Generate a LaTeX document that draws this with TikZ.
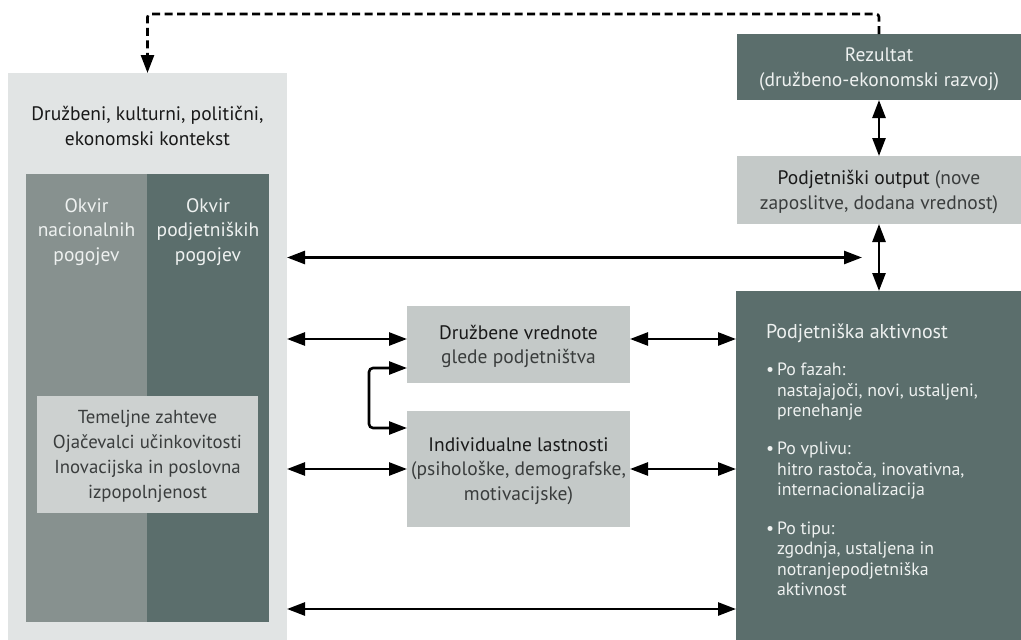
\documentclass[tikz,border=0pt]{standalone}
\usepackage{fontspec}
\setmainfont{PT Sans}
\usepackage{xcolor}
\usetikzlibrary{arrows.meta,calc}

\definecolor{slate}{HTML}{5B6E6C}
\definecolor{midgray}{HTML}{87918F}
\definecolor{ctxgray}{HTML}{E1E4E4}
\definecolor{boxgray}{HTML}{C4C9C8}
\definecolor{innergray}{HTML}{CDD1D0}
\definecolor{paletext}{HTML}{EEF1F0}
\definecolor{softtext}{HTML}{3A3D3D}

\newcommand{\soft}[1]{{\color{softtext}#1}}

\begin{document}
\begin{tikzpicture}[
    x=1pt, y=-1pt,
    panel/.style={rectangle, inner sep=0pt, outer sep=0pt},
    ctxbox/.style={panel, fill=ctxgray},
    colbox/.style={panel},
    darkbox/.style={panel, fill=slate, text=paletext, align=center, text depth=0pt,
                font=\fontsize{19.5}{24.5}\selectfont},
    greybox/.style={panel, fill=boxgray, text=black!90, align=center, text depth=0pt,
                font=\fontsize{19.5}{24.5}\selectfont},
    lbl/.style={inner sep=0pt, align=center, font=\fontsize{19.5}{24.5}\selectfont},
    arr/.style={{Triangle[length=18pt,width=13pt]}-{Triangle[length=18pt,width=13pt]}, line width=2.6pt},
    darr/.style={-{Triangle[length=18pt,width=13pt]}, line width=2.6pt, dash pattern=on 8pt off 4.5pt,
                rounded corners=3pt}
]
\path[use as bounding box, fill=white] (0,0) rectangle (1021,640);

% --- Context (left) ---
\node[ctxbox, minimum width=279pt, minimum height=567pt] (ctx) at (147.5,356.5) {};
\node[lbl, text=black!90] (ctxlbl) at (147.5,126) {Družbeni, kulturni, politični,\\ekonomski kontekst};

\node[colbox, fill=midgray, minimum width=121pt, minimum height=448pt] (nat) at (86.5,398) {};
\node[colbox, fill=slate, minimum width=122pt, minimum height=448pt] (podj) at (208,398) {};
\node[lbl, text=paletext] (natlbl) at (86.5,232) {Okvir\\nacionalnih\\pogojev};
\node[lbl, text=paletext] (podjlbl) at (208,232) {Okvir\\podjetniških\\pogojev};

\node[greybox, fill=innergray, minimum width=221pt, minimum height=117pt,
      font=\fontsize{18.8}{25}\selectfont, text=softtext] (tem) at (147.5,454.5)
    {Temeljne zahteve\\Ojačevalci učinkovitosti\\Inovacijska in poslovna\\izpopolnjenost};

% --- Middle boxes ---
\node[greybox, minimum width=223pt, minimum height=77pt] (dru) at (518.5,344.5)
    {Družbene vrednote\\\soft{glede podjetništva}};
\node[greybox, minimum width=223pt, minimum height=116pt] (ind) at (518.5,469)
    {Individualne lastnosti\\\soft{(psihološke, demografske,}\\\soft{motivacijske)}};

% --- Right column ---
\node[darkbox, minimum width=284pt, minimum height=66pt] (rez) at (879,67)
    {Rezultat\\(družbeno-ekonomski razvoj)};
\node[greybox, minimum width=284pt, minimum height=68pt] (out) at (879,190)
    {Podjetniški output \soft{(nove}\\\soft{zaposlitve, dodana vrednost)}};
\node[darkbox, minimum width=285pt, minimum height=349pt] (akt) at (878.5,465.5) {};
\node[panel, anchor=north west, align=left, text=paletext,
      font=\fontsize{17.8}{20.5}\selectfont] (aktlbl) at (766,324)
    {{\fontsize{20}{20.5}\selectfont Podjetniška aktivnost}\\[16.5pt]
     \textbullet\,Po fazah:\\
     \hphantom{\textbullet\,}nastajajoči, novi, ustaljeni,\\
     \hphantom{\textbullet\,}prenehanje\\[17.5pt]
     \textbullet\,Po vplivu:\\
     \hphantom{\textbullet\,}hitro rastoča, inovativna,\\
     \hphantom{\textbullet\,}internacionalizacija\\[18pt]
     \textbullet\,Po tipu:\\
     \hphantom{\textbullet\,}zgodnja, ustaljena in\\
     \hphantom{\textbullet\,}notranjepodjetniška\\
     \hphantom{\textbullet\,}aktivnost};

% --- Connectors ---
\draw[darr] (rez.north) -- ++(0,-20) -| (ctx.north);
\draw[arr] (rez.south) -- (out.north);
\draw[arr] (out.south) -- (out.south |- akt.north);

\coordinate (gap) at ($(out.south)!0.5!(out.south |- akt.north)+(-17,0)$);
\draw[arr] (ctx.east |- gap) -- (gap);

\coordinate (r1) at ([yshift=5.5pt]dru.west);
\draw[arr] (ctx.east |- r1) -- (r1);
\draw[arr] (dru.east |- r1) -- (akt.west |- r1);
\draw[arr] (ctx.east |- ind.west) -- (ind.west);
\draw[arr] (ind.east) -- (akt.west |- ind.east);

\draw[arr, rounded corners=4pt] ([yshift=-23.5pt]dru.west) -- ++(-38,0) |- ([yshift=41pt]ind.west);

\coordinate (r3) at (500,609);
\draw[arr] (ctx.east |- r3) -- (akt.west |- r3);

\end{tikzpicture}
\end{document}
